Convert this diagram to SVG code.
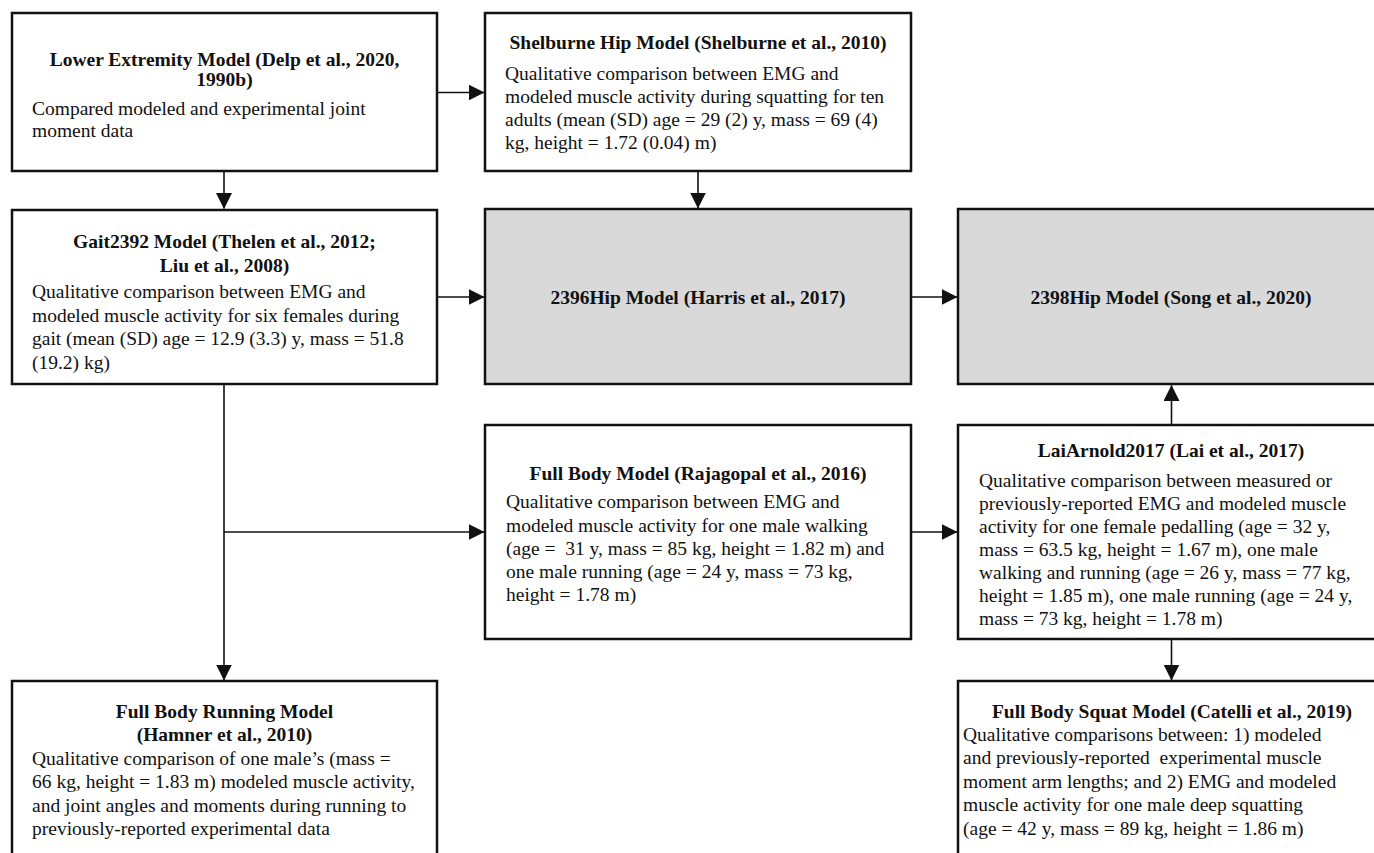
<svg xmlns="http://www.w3.org/2000/svg" width="1374" height="853" viewBox="0 0 1374 853">
<style>
.box{fill:#fff;stroke:#111;stroke-width:2.5}
.gray{fill:#d9d9d9;stroke:#111;stroke-width:2.5}
.t{font-family:"Liberation Serif","Times New Roman",serif;font-size:19.5px;font-weight:bold;fill:#111;text-anchor:middle}
.b{font-family:"Liberation Serif","Times New Roman",serif;font-size:19.5px;fill:#111}
.c{fill:none;stroke:#111;stroke-width:1.6}
</style>
<defs>
<marker id="ah" markerWidth="16" markerHeight="16" refX="15.5" refY="8" orient="auto" markerUnits="userSpaceOnUse">
<path d="M0,0 L16,8 L0,16 Z" fill="#111"/>
</marker>
</defs>
<rect width="1374" height="853" fill="#fff"/>
<g id="connectors">
<path class="c" d="M437,92.5 H484" marker-end="url(#ah)"/>
<path class="c" d="M224,171 V208.5" marker-end="url(#ah)"/>
<path class="c" d="M698,171 V208" marker-end="url(#ah)"/>
<path class="c" d="M437,297 H484" marker-end="url(#ah)"/>
<path class="c" d="M911,297 H957" marker-end="url(#ah)"/>
<path class="c" d="M224,384 V680" marker-end="url(#ah)"/>
<path class="c" d="M224,532 H484" marker-end="url(#ah)"/>
<path class="c" d="M911,532 H957" marker-end="url(#ah)"/>
<path class="c" d="M1171.5,425 V385.5" marker-end="url(#ah)"/>
<path class="c" d="M1171.5,639 V680" marker-end="url(#ah)"/>
</g>
<g id="lower-extremity">
<rect class="box" x="12" y="13" width="425" height="158"/>
<text class="t" x="224.5" y="66">Lower Extremity Model (Delp et al., 2020,</text>
<text class="t" x="224.5" y="86">1990b)</text>
<text class="b" x="32" y="115">Compared modeled and experimental joint</text>
<text class="b" x="32" y="137">moment data</text>
</g>
<g id="shelburne">
<rect class="box" x="485" y="13" width="426" height="158"/>
<text class="t" x="698" y="49">Shelburne Hip Model (Shelburne et al., 2010)</text>
<text class="b" x="505" y="80">Qualitative comparison between EMG and</text>
<text class="b" x="505" y="103">modeled muscle activity during squatting for ten</text>
<text class="b" x="505" y="126">adults (mean (SD) age = 29 (2) y, mass = 69 (4)</text>
<text class="b" x="505" y="149">kg, height = 1.72 (0.04) m)</text>
</g>
<g id="gait2392">
<rect class="box" x="12" y="210" width="425" height="174"/>
<text class="t" x="224.5" y="248">Gait2392 Model (Thelen et al., 2012;</text>
<text class="t" x="224.5" y="272">Liu et al., 2008)</text>
<text class="b" x="32" y="298">Qualitative comparison between EMG and</text>
<text class="b" x="32" y="321.5">modeled muscle activity for six females during</text>
<text class="b" x="32" y="345">gait (mean (SD) age = 12.9 (3.3) y, mass = 51.8</text>
<text class="b" x="32" y="368.5">(19.2) kg)</text>
</g>
<g id="hip2396">
<rect class="gray" x="485" y="209" width="426" height="175"/>
<text class="t" x="698" y="304">2396Hip Model (Harris et al., 2017)</text>
</g>
<g id="hip2398">
<rect class="gray" x="958" y="209" width="427" height="175"/>
<text class="t" x="1171" y="304">2398Hip Model (Song et al., 2020)</text>
</g>
<g id="full-body">
<rect class="box" x="485" y="425" width="426" height="214"/>
<text class="t" x="698" y="480">Full Body Model (Rajagopal et al., 2016)</text>
<text class="b" x="506" y="508">Qualitative comparison between EMG and</text>
<text class="b" x="506" y="531.5">modeled muscle activity for one male walking</text>
<text class="b" x="506" y="555">(age = &#160;31 y, mass = 85 kg, height = 1.82 m) and</text>
<text class="b" x="506" y="578">one male running (age = 24 y, mass = 73 kg,</text>
<text class="b" x="506" y="601">height = 1.78 m)</text>
</g>
<g id="laiarnold">
<rect class="box" x="958" y="425" width="427" height="214"/>
<text class="t" x="1171" y="457">LaiArnold2017 (Lai et al., 2017)</text>
<text class="b" x="979" y="487">Qualitative comparison between measured or</text>
<text class="b" x="979" y="510">previously-reported EMG and modeled muscle</text>
<text class="b" x="979" y="533">activity for one female pedalling (age = 32 y,</text>
<text class="b" x="979" y="556">mass = 63.5 kg, height = 1.67 m), one male</text>
<text class="b" x="979" y="579">walking and running (age = 26 y, mass = 77 kg,</text>
<text class="b" x="979" y="602">height = 1.85 m), one male running (age = 24 y,</text>
<text class="b" x="979" y="625">mass = 73 kg, height = 1.78 m)</text>
</g>
<g id="full-body-running">
<rect class="box" x="12" y="681" width="425" height="190"/>
<text class="t" x="224.5" y="718">Full Body Running Model</text>
<text class="t" x="224.5" y="741">(Hamner et al., 2010)</text>
<text class="b" x="32" y="765">Qualitative comparison of one male’s (mass =</text>
<text class="b" x="32" y="788">66 kg, height = 1.83 m) modeled muscle activity,</text>
<text class="b" x="32" y="812">and joint angles and moments during running to</text>
<text class="b" x="32" y="835">previously-reported experimental data</text>
</g>
<g id="full-body-squat">
<rect class="box" x="958" y="681" width="427" height="190"/>
<text class="t" x="1172" y="718">Full Body Squat Model (Catelli et al., 2019)</text>
<text class="b" x="963" y="741">Qualitative comparisons between: 1) modeled</text>
<text class="b" x="963" y="764">and previously-reported &#160;experimental muscle</text>
<text class="b" x="963" y="788">moment arm lengths; and 2) EMG and modeled</text>
<text class="b" x="963" y="811">muscle activity for one male deep squatting</text>
<text class="b" x="963" y="835">(age = 42 y, mass = 89 kg, height = 1.86 m)</text>
</g>
</svg>
